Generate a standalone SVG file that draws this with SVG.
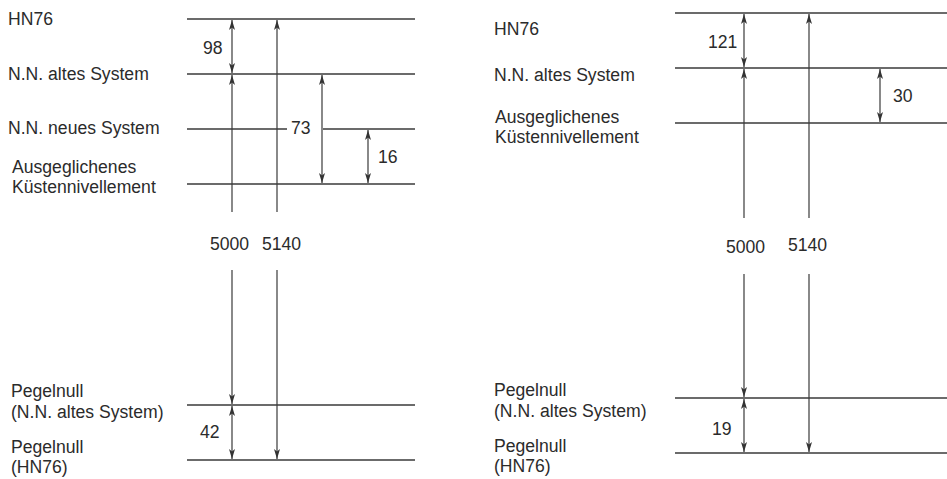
<svg xmlns="http://www.w3.org/2000/svg" width="947" height="479" viewBox="0 0 947 479">
<style>
text{font-family:"Liberation Sans",Arial,sans-serif;font-size:17.6px;fill:#2b2b2b}
.lvl{stroke:#3a3a3a;stroke-width:1.3;fill:none}
.ar{stroke:#3a3a3a;stroke-width:1.2;fill:none}
</style>
<defs>
<marker id="ah" viewBox="0 0 10 6" refX="10" refY="3" markerWidth="10" markerHeight="6" markerUnits="userSpaceOnUse" orient="auto-start-reverse">
<path d="M0,0 L10,3 L0,6 L2.5,3 z" fill="#333"/>
</marker>
</defs>
<rect width="947" height="479" fill="#fff"/>

<!-- Left panel -->
<g id="L-hn76"><text x="8" y="25">HN76</text><line class="lvl" x1="187" y1="19" x2="415" y2="19"/></g>
<g id="L-nnalt"><text x="8" y="80">N.N. altes System</text><line class="lvl" x1="187" y1="74" x2="415" y2="74"/></g>
<g id="L-nnneu"><text x="8" y="134">N.N. neues System</text><line class="lvl" x1="187" y1="129" x2="287" y2="129"/><line class="lvl" x1="323" y1="129" x2="415" y2="129"/></g>
<g id="L-kn"><text x="12" y="173">Ausgeglichenes</text><text x="12" y="193">Küstennivellement</text><line class="lvl" x1="187" y1="184" x2="415" y2="184"/></g>
<g id="L-pnalt"><text x="11" y="397">Pegelnull</text><text x="11" y="418">(N.N. altes System)</text><line class="lvl" x1="187" y1="405" x2="415" y2="405"/></g>
<g id="L-pnhn"><text x="11" y="453">Pegelnull</text><text x="11" y="473">(HN76)</text><line class="lvl" x1="187" y1="460" x2="415" y2="460"/></g>

<!-- Right panel -->
<g id="R-hn76"><text x="494" y="35">HN76</text><line class="lvl" x1="675" y1="13" x2="947" y2="13"/></g>
<g id="R-nnalt"><text x="494" y="81">N.N. altes System</text><line class="lvl" x1="675" y1="68" x2="947" y2="68"/></g>
<g id="R-kn"><text x="495" y="123">Ausgeglichenes</text><text x="495" y="143">Küstennivellement</text><line class="lvl" x1="675" y1="123" x2="947" y2="123"/></g>
<g id="R-pnalt"><text x="494" y="396">Pegelnull</text><text x="494" y="417">(N.N. altes System)</text><line class="lvl" x1="675" y1="398" x2="947" y2="398"/></g>
<g id="R-pnhn"><text x="494" y="452">Pegelnull</text><text x="494" y="472">(HN76)</text><line class="lvl" x1="675" y1="453" x2="947" y2="453"/></g>

<g id="connectors">
<!-- left -->
<line class="ar" x1="232" y1="20" x2="232" y2="73" marker-start="url(#ah)" marker-end="url(#ah)"/>
<line class="ar" x1="232" y1="212" x2="232" y2="75" marker-end="url(#ah)"/>
<line class="ar" x1="232" y1="270" x2="232" y2="404" marker-end="url(#ah)"/>
<line class="ar" x1="232" y1="406" x2="232" y2="459" marker-start="url(#ah)" marker-end="url(#ah)"/>
<line class="ar" x1="277" y1="212" x2="277" y2="20" marker-end="url(#ah)"/>
<line class="ar" x1="277" y1="270" x2="277" y2="459" marker-end="url(#ah)"/>
<line class="ar" x1="322" y1="75" x2="322" y2="183" marker-start="url(#ah)" marker-end="url(#ah)"/>
<line class="ar" x1="368" y1="130" x2="368" y2="183" marker-start="url(#ah)" marker-end="url(#ah)"/>
<!-- right -->
<line class="ar" x1="744" y1="14" x2="744" y2="67" marker-start="url(#ah)" marker-end="url(#ah)"/>
<line class="ar" x1="744" y1="218" x2="744" y2="69" marker-end="url(#ah)"/>
<line class="ar" x1="744" y1="274" x2="744" y2="397" marker-end="url(#ah)"/>
<line class="ar" x1="744" y1="399" x2="744" y2="452" marker-start="url(#ah)" marker-end="url(#ah)"/>
<line class="ar" x1="809" y1="218" x2="809" y2="14" marker-end="url(#ah)"/>
<line class="ar" x1="809" y1="274" x2="809" y2="452" marker-end="url(#ah)"/>
<line class="ar" x1="880" y1="69" x2="880" y2="122" marker-start="url(#ah)" marker-end="url(#ah)"/>
</g>

<g id="values">
<text x="203" y="54">98</text>
<text x="291" y="134">73</text>
<text x="378" y="163">16</text>
<text x="210" y="250">5000</text>
<text x="262" y="250">5140</text>
<text x="200" y="438">42</text>
<text x="708" y="48">121</text>
<text x="893" y="102">30</text>
<text x="726" y="253">5000</text>
<text x="788" y="251">5140</text>
<text x="712" y="435">19</text>
</g>
</svg>
